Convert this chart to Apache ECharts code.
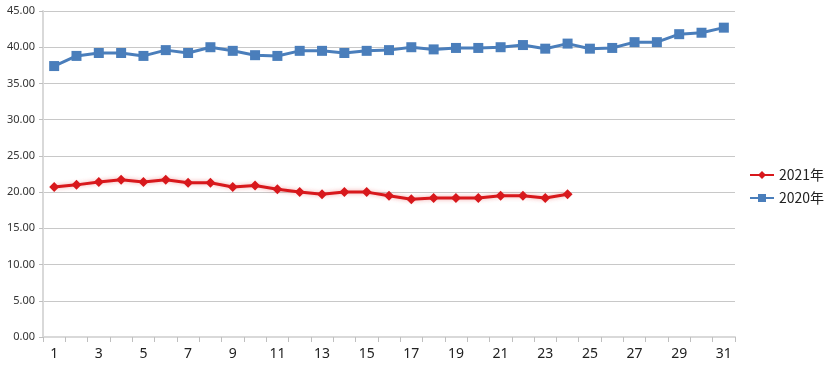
<!DOCTYPE html>
<html><head><meta charset="utf-8">
<script src="https://cdn.jsdelivr.net/npm/echarts@6/dist/echarts.min.js"></script>
<style>html,body{margin:0;padding:0;background:#fff}#c{width:826px;height:373px}</style>
</head><body><div id="c"></div>
<script>
const categories = ['1','2','3','4','5','6','7','8','9','10','11','12','13','14','15','16','17','18','19','20','21','22','23','24','25','26','27','28','29','30','31'];
const s2021 = [20.7,21.0,21.4,21.7,21.4,21.7,21.3,21.3,20.7,20.9,20.4,20.0,19.7,20.0,20.0,19.5,19.0,19.2,19.2,19.2,19.5,19.5,19.2,19.7];
const s2020 = [37.4,38.8,39.2,39.2,38.8,39.6,39.2,40.0,39.5,38.9,38.8,39.5,39.5,39.2,39.5,39.6,40.0,39.7,39.9,39.9,40.0,40.3,39.8,40.5,39.8,39.9,40.7,40.7,41.8,42.0,42.7];
const chart = echarts.init(document.getElementById('c'));
chart.setOption({
  animation:false,
  grid:{left:43,right:91,top:11,bottom:36},
  legend:{orient:'vertical',left:744,top:163,itemWidth:24,itemHeight:10,itemGap:9,
    textStyle:{fontSize:14,color:'#222',fontFamily:'"Noto Sans CJK SC", sans-serif'},
    data:['2021年','2020年']},
  xAxis:{type:'category',data:categories,boundaryGap:true,
    axisLine:{lineStyle:{color:'#d9d9d9',width:2}},
    axisTick:{show:true,interval:0,length:5,lineStyle:{color:'#bfbfbf'}},
    axisLabel:{interval:1,fontSize:14,color:'#222',margin:10,fontFamily:'"Noto Sans", sans-serif'}},
  yAxis:{type:'value',min:0,max:45,interval:5,
    axisLine:{show:true,lineStyle:{color:'#d9d9d9',width:2}},
    axisTick:{show:true,length:4,lineStyle:{color:'#bfbfbf'}},
    splitLine:{lineStyle:{color:'#c8c8c8',width:1}},
    axisLabel:{formatter:v=>v.toFixed(2),fontSize:11,color:'#333',margin:8,fontFamily:'"Noto Sans", sans-serif'}},
  series:[
    {name:'2021年',type:'line',data:s2021,symbol:'diamond',symbolSize:10,
      lineStyle:{color:'#d8181c',width:3,shadowColor:'rgba(230,60,60,0.45)',shadowBlur:4},
      itemStyle:{color:'#d8181c'}},
    {name:'2020年',type:'line',data:s2020,symbol:'rect',symbolSize:10,
      lineStyle:{color:'#4a7ebb',width:3},
      itemStyle:{color:'#4a7ebb'}}
  ]
});
</script></body></html>
